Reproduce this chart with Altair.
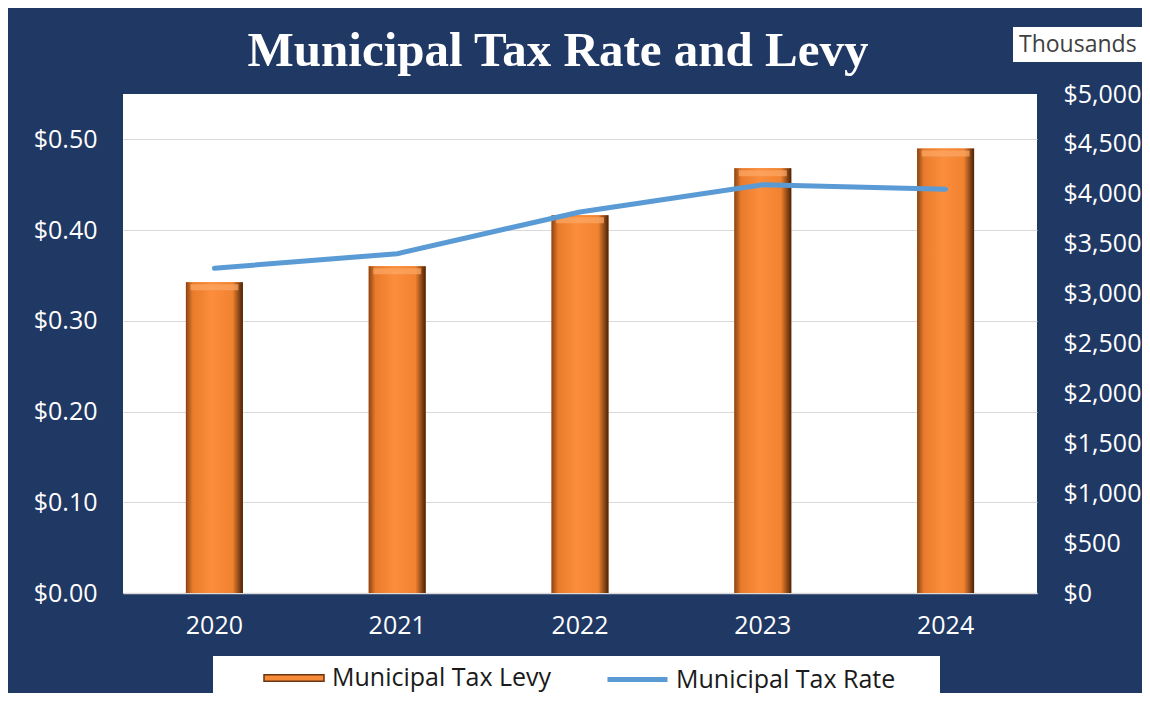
import altair as alt
import pandas as pd

years = ["2020", "2021", "2022", "2023", "2024"]
levy = [3114, 3274, 3785, 4255, 4455]          # Municipal Tax Levy, thousands of $
rate = [0.358, 0.374, 0.420, 0.450, 0.445]      # Municipal Tax Rate, $

levy_name = "Municipal Tax Levy"
rate_name = "Municipal Tax Rate"
title_text = "Municipal Tax Rate and Levy"
unit_text = "Thousands"

df = pd.DataFrame({"year": years, "levy": levy, "rate": rate,
                   "s_levy": levy_name, "s_rate": rate_name})

NAVY = "#203864"
ORANGE = "#F58A38"
BLUE = "#5B9BD5"
FONT = "Open Sans"

x_enc = alt.X("year:N", title=None,
              scale=alt.Scale(paddingInner=0, paddingOuter=0),
              axis=alt.Axis(labelAngle=0, labelColor="white", labelFont=FONT,
                            labelFontSize=25, labelPadding=20, ticks=False,
                            domain=True, domainColor="#D9D9D9", domainWidth=1.5,
                            grid=False))

y_levy = alt.Y("levy:Q", title=None,
               scale=alt.Scale(domain=[0, 5000], nice=False),
               axis=alt.Axis(orient="right", values=list(range(0, 5001, 500)),
                             format="$,.0f", labelColor="white", labelFont=FONT,
                             labelFontSize=25, labelPadding=26, ticks=False,
                             domain=False, grid=False))

y_rate = alt.Y("rate:Q", title=None,
               scale=alt.Scale(domain=[0, 0.55], nice=False),
               axis=alt.Axis(orient="left", values=[0, 0.1, 0.2, 0.3, 0.4, 0.5],
                             format="$.2f", labelColor="white", labelFont=FONT,
                             labelFontSize=25, labelPadding=26, ticks=False,
                             domain=False, grid=True, gridColor="#D9D9D9",
                             gridWidth=1.2))

base = alt.Chart(df)

bar_gradient = alt.Gradient(
    gradient="linear", x1=0, x2=1, y1=0, y2=0,
    stops=[alt.GradientStop(color="#8A4414", offset=0),
           alt.GradientStop(color="#E97C2C", offset=0.12),
           alt.GradientStop(color="#FB8D3C", offset=0.45),
           alt.GradientStop(color="#F08230", offset=0.82),
           alt.GradientStop(color="#4A2206", offset=1)])

bars_legend = base.mark_bar(size=57).encode(
    x=x_enc, y=y_levy,
    color=alt.Color("s_levy:N", title=None,
                    scale=alt.Scale(domain=[levy_name], range=[ORANGE]),
                    legend=alt.Legend(orient="none", legendX=140, legendY=553,
                                      symbolType="M-1,-0.11H1V0.11H-1Z",
                                      symbolSize=3600, symbolStrokeColor="#6A3410",
                                      symbolStrokeWidth=1.5, labelOffset=7,
                                      labelFont=FONT, labelFontSize=25,
                                      labelColor="#1A1A1A", labelLimit=400,
                                      padding=0)))

bars = base.mark_bar(size=57, fill=bar_gradient).encode(x=x_enc, y=y_levy)

bevel = base.mark_tick(size=48, thickness=6, color="#FCA866", yOffset=5).encode(
    x=x_enc, y=y_levy)

line = base.mark_line(strokeWidth=5, strokeCap="round").encode(
    x=x_enc, y=y_rate,
    stroke=alt.Stroke("s_rate:N", title=None,
                      scale=alt.Scale(domain=[rate_name], range=[BLUE]),
                      legend=alt.Legend(orient="none", legendX=482, legendY=553,
                                        symbolType="stroke", symbolSize=3600,
                                        symbolStrokeWidth=5, labelOffset=6,
                                        labelFont=FONT, labelFontSize=25,
                                        labelColor="#1A1A1A", labelLimit=400,
                                        padding=0)))

one = alt.Data(values=[{"t": unit_text, "title": title_text}])

legend_box = alt.Chart(one).mark_rect(fill="white").encode(
    x=alt.value(90), x2=alt.value(817), y=alt.value(562), y2=alt.value(602))

thousands_box = alt.Chart(one).mark_rect(fill="white").encode(
    x=alt.value(890), x2=alt.value(1019), y=alt.value(-67), y2=alt.value(-32))

thousands_text = alt.Chart(one).mark_text(
    align="left", baseline="middle", font=FONT, fontSize=23, color="#404040").encode(
    x=alt.value(896), y=alt.value(-49), text="t:N")

title_mark = alt.Chart(one).mark_text(
    align="center", baseline="alphabetic", font="Liberation Serif", fontSize=49,
    fontWeight="bold", color="white").encode(
    x=alt.value(435), y=alt.value(-28), text="title:N")

levy_layer = alt.layer(bars_legend, bars, bevel)

chart = alt.layer(
    alt.layer(legend_box, thousands_box, thousands_text, title_mark),
    levy_layer,
    line,
).resolve_scale(y="independent", color="independent", stroke="independent").properties(
    width=914, height=499,
    autosize=alt.AutoSizeParams(type="none"),
    padding={"left": 115, "top": 86, "right": 105, "bottom": 100},
).configure(background=NAVY).configure_view(fill="white", stroke=None)

chart.save("out.html", embed_options={"renderer": "svg", "actions": False})
